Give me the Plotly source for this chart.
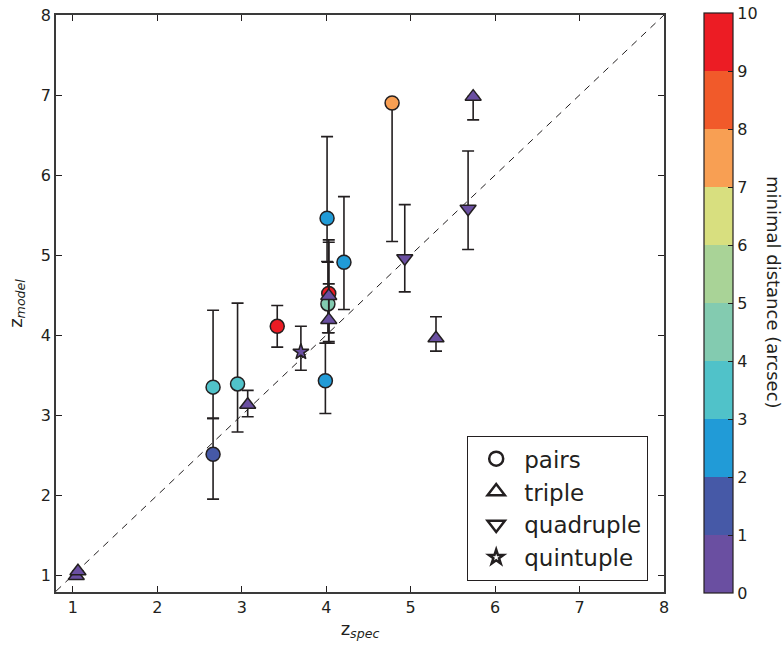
import plotly.graph_objects as go

# ---- data ----
pair_x = [2.66, 2.66, 2.95, 3.42, 3.99, 4.01, 4.21, 4.03, 4.02, 4.78]
pair_y = [3.35, 2.51, 3.39, 4.11, 3.43, 5.46, 4.91, 4.52, 4.39, 6.90]
pair_lo = [2.96, 1.95, 2.79, 3.85, 3.02, 4.92, 4.32, 3.92, 4.03, 5.17]
pair_hi = [4.31, 2.96, 4.40, 4.37, 3.90, 6.48, 5.73, 5.19, 4.91, 6.90]
pair_d = [3.5, 1.5, 3.5, 9.5, 2.5, 2.5, 2.5, 9.5, 4.5, 7.5]

trip_x = [1.04, 1.06, 3.07, 4.03, 4.03, 5.30, 5.74]
trip_y = [0.99, 1.05, 3.13, 4.49, 4.19, 3.96, 6.98]
trip_lo = [0.99, 1.05, 2.98, 4.03, 3.90, 3.80, 6.69]
trip_hi = [0.99, 1.05, 3.31, 5.16, 4.64, 4.23, 6.98]
trip_d = [0.5, 0.5, 0.5, 0.5, 0.5, 0.5, 0.5]

quad_x = [4.93, 5.68]
quad_y = [4.96, 5.58]
quad_lo = [4.54, 5.07]
quad_hi = [5.63, 6.30]
quad_d = [0.5, 0.5]

quin_x = [3.70]
quin_y = [3.79]
quin_lo = [3.56]
quin_hi = [4.11]
quin_d = [0.5]

legend_names = ["pairs", "triple", "quadruple", "quintuple"]
cbar_ticks = [0, 1, 2, 3, 4, 5, 6, 7, 8, 9, 10]
axis_ticks = [1, 2, 3, 4, 5, 6, 7, 8]

bin_colors = ["#6a4fa1", "#4659a7", "#219bd7", "#50c2c9", "#83cbb0",
              "#a9d397", "#d8df7f", "#f89f53", "#f15a2a", "#ec1c24"]

# discrete colorscale
cs = []
n = len(bin_colors)
for i, c in enumerate(bin_colors):
    cs.append([i / n, c])
    cs.append([(i + 1) / n, c])

EDGE = "#231f20"

L, R, T, B = 56, 664, 15, 592
PW, PH = R - L, B - T

fig = go.Figure()

# y = x dashed line
fig.add_trace(go.Scatter(x=[0.8, 8], y=[0.8, 8], mode="lines",
                         line=dict(color=EDGE, width=1, dash="7px,6px"),
                         showlegend=False, hoverinfo="skip"))

def add_group(xs, ys, lo, hi, d, symbol, size, show_cbar=False):
    fig.add_trace(go.Scatter(
        x=xs, y=ys, mode="markers", showlegend=False,
        error_y=dict(type="data", symmetric=False,
                     array=[h - v for h, v in zip(hi, ys)],
                     arrayminus=[v - l for v, l in zip(ys, lo)],
                     color=EDGE, thickness=1.6, width=6),
        marker=dict(symbol=symbol, size=size, color=d, colorscale=cs,
                    cmin=0, cmax=10, line=dict(color=EDGE, width=1.5),
                    showscale=show_cbar,
                    colorbar=dict(
                        thickness=29, len=580, lenmode="pixels",
                        x=(704 - L) / PW, xanchor="left", xpad=0,
                        y=(B - 13) / PH, yanchor="top", ypad=0,
                        tickvals=cbar_ticks, ticks="inside", ticklen=5,
                        tickcolor=EDGE, outlinecolor=EDGE, outlinewidth=1.2,
                        tickfont=dict(size=16, color="#231f20"),
                    ) if show_cbar else None),
        hoverinfo="x+y"))

add_group(pair_x, pair_y, pair_lo, pair_hi, pair_d, "circle", 14, True)
add_group(trip_x, trip_y, trip_lo, trip_hi, trip_d, "triangle-up", 14)
add_group(quad_x, quad_y, quad_lo, quad_hi, quad_d, "triangle-down", 14)
add_group(quin_x, quin_y, quin_lo, quin_hi, quin_d, "star", 12)

# legend-only entries
for name, sym, sz in zip(legend_names,
                         ["circle", "triangle-up", "triangle-down", "star"],
                         [14, 15, 15, 11]):
    fig.add_trace(go.Scatter(x=[None], y=[None], mode="markers", name=name,
                             marker=dict(symbol=sym, size=sz, color="white",
                                         line=dict(color=EDGE, width=2.5))))

axis_common = dict(showgrid=False, zeroline=False, showline=True,
                   linecolor="#3a3a3a", linewidth=1.5, mirror="ticks",
                   ticks="inside", ticklen=6, tickwidth=1.3, tickcolor=EDGE,
                   tickfont=dict(size=16, color="#231f20"),
                   tickvals=axis_ticks)

fig.update_layout(
    width=784, height=652,
    margin=dict(l=L, r=784 - R, t=T, b=652 - B, autoexpand=False),
    paper_bgcolor="white", plot_bgcolor="white",
    font=dict(family="DejaVu Sans", color="#231f20"),
    xaxis=dict(range=[0.8, 8], **axis_common,
               title=dict(text="z<sub><i>spec</i></sub>",
                          font=dict(size=18), standoff=6)),
    yaxis=dict(range=[0.79, 8], **axis_common,
               title=dict(text="z<sub><i>model</i></sub>",
                          font=dict(size=18), standoff=14)),
    legend=dict(x=(467 - L) / PW, y=(B - 581) / PH,
                xanchor="left", yanchor="bottom",
                bordercolor=EDGE, borderwidth=1.2, bgcolor="white",
                font=dict(size=23, color="#231f20"),
                itemwidth=46, tracegroupgap=0),
    annotations=[dict(text="minimal distance (arcsec)", textangle=90,
                      xref="paper", yref="paper",
                      x=(773 - L) / PW, y=(B - 292) / PH,
                      xanchor="center", yanchor="middle", showarrow=False,
                      font=dict(size=18, color="#231f20"))],
)

fig.write_html("out.html",
               config={"displayModeBar": False},
               post_script="document.body.style.margin='0';"
                           "document.body.style.overflow='hidden';")
